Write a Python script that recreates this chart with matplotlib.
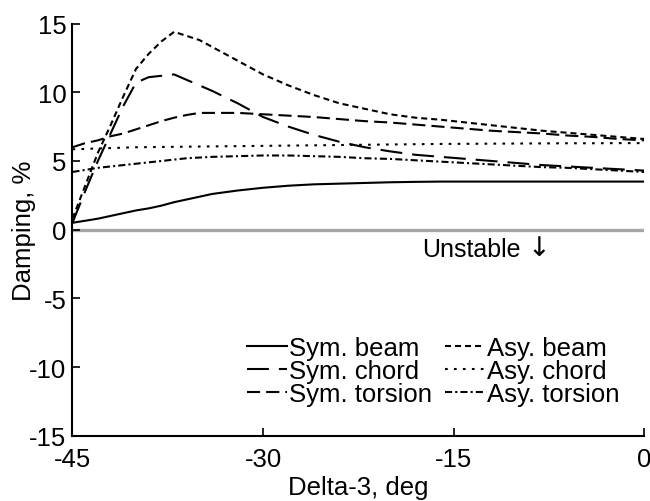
import matplotlib
matplotlib.use("Agg")
import matplotlib.pyplot as plt

plt.rcParams["font.family"] = ["Liberation Sans", "DejaVu Sans"]
plt.rcParams["axes.unicode_minus"] = False

# delta-3 angle, deg
delta3 = [-45, -44, -43, -42, -41, -40, -39, -38, -37, -36, -35, -34, -32, -30,
          -28, -26, -24, -22, -20, -18, -16, -14, -12, -10, -8, -6, -4, -2, 0]

# damping, %
sym_beam = [0.5, 0.65, 0.8, 1.0, 1.2, 1.4, 1.55, 1.75, 2.0, 2.2, 2.4, 2.6, 2.85, 3.05,
            3.2, 3.3, 3.35, 3.4, 3.45, 3.48, 3.5, 3.5, 3.5, 3.5, 3.5, 3.5, 3.5, 3.5, 3.5]
sym_chord = [0.5, 2.8, 5.0, 7.0, 9.0, 10.7, 11.1, 11.2, 11.3, 10.9, 10.5, 10.1, 9.2, 8.2,
             7.5, 6.9, 6.4, 6.0, 5.7, 5.45, 5.3, 5.15, 5.0, 4.85, 4.7, 4.6, 4.5, 4.4, 4.3]
sym_torsion = [6.0, 6.3, 6.5, 6.8, 7.0, 7.3, 7.6, 7.9, 8.15, 8.35, 8.5, 8.5, 8.5, 8.4,
               8.3, 8.2, 8.05, 7.9, 7.8, 7.65, 7.5, 7.35, 7.2, 7.1, 7.0, 6.85, 6.75, 6.6, 6.5]
asy_beam = [0.8, 3.2, 5.6, 7.6, 9.7, 11.7, 12.8, 13.7, 14.4, 14.1, 13.8, 13.3, 12.3, 11.3,
            10.5, 9.8, 9.2, 8.8, 8.4, 8.15, 8.0, 7.8, 7.6, 7.4, 7.2, 7.05, 6.9, 6.75, 6.6]
asy_chord = [5.85, 5.88, 5.91, 5.94, 5.97, 6.0, 6.01, 6.02, 6.03, 6.04, 6.05, 6.06, 6.08, 6.1,
             6.12, 6.14, 6.16, 6.18, 6.2, 6.22, 6.24, 6.25, 6.26, 6.27, 6.28, 6.29, 6.29, 6.3, 6.3]
asy_torsion = [4.2, 4.35, 4.5, 4.6, 4.7, 4.8, 4.9, 5.0, 5.1, 5.2, 5.25, 5.3, 5.35, 5.4,
               5.4, 5.35, 5.3, 5.2, 5.15, 5.05, 4.95, 4.85, 4.75, 4.65, 4.55, 4.5, 4.4, 4.3, 4.2]

series = [
    ("Sym. beam", sym_beam, "-"),
    ("Sym. chord", sym_chord, (0, (10.5, 4.8))),
    ("Sym. torsion", sym_torsion, (0, (6.3, 2.9))),
    ("Asy. beam", asy_beam, (0, (2.9, 1.9))),
    ("Asy. chord", asy_chord, (0, (1.3, 3.0))),
    ("Asy. torsion", asy_torsion, (0, (3.4, 1.5, 1.0, 1.5))),
]

fs = 18.5
fig = plt.figure(figsize=(6.5, 5.02), dpi=100)
ax = fig.add_axes([0.1115, 0.130, 0.8795, 0.821])

ax.plot([-45, 0], [0, 0], color="#a6a6a6", lw=2.4, zorder=1)
for name, vals, ls in series:
    ax.plot(delta3, vals, color="black", lw=1.5, linestyle=ls, label=name, zorder=2)

ax.text(-17.5, -1.4, "Unstable", fontsize=fs - 0.5, va="center", ha="left")
ax.text(-8.3, -1.3, "\u2193", fontsize=fs + 1, va="center", ha="center",
        family=["DejaVu Sans"])

ax.set_xlim(-45, 0)
ax.set_ylim(-15, 15)
ax.set_xticks([-45, -30, -15, 0])
ax.set_yticks([-15, -10, -5, 0, 5, 10, 15])
ax.spines["top"].set_visible(False)
ax.spines["right"].set_visible(False)
for s in ("left", "bottom"):
    ax.spines[s].set_linewidth(1.5)
ax.tick_params(axis="both", direction="in", length=5.5, width=1.2, labelsize=fs)
ax.tick_params(axis="y", pad=4.3)
ax.tick_params(axis="x", pad=8)
ax.set_xlabel("Delta-3, deg", fontsize=fs, labelpad=3)
ax.set_ylabel("Damping, %", fontsize=fs, labelpad=-5)

ax.legend(ncol=2, frameon=False, fontsize=fs, loc="upper left",
          bbox_to_anchor=(0.305, 0.241), borderpad=0, borderaxespad=0,
          handlelength=1.55, handletextpad=0.1, columnspacing=0.5,
          labelspacing=-0.05)

fig.savefig("out.png", dpi=100)
